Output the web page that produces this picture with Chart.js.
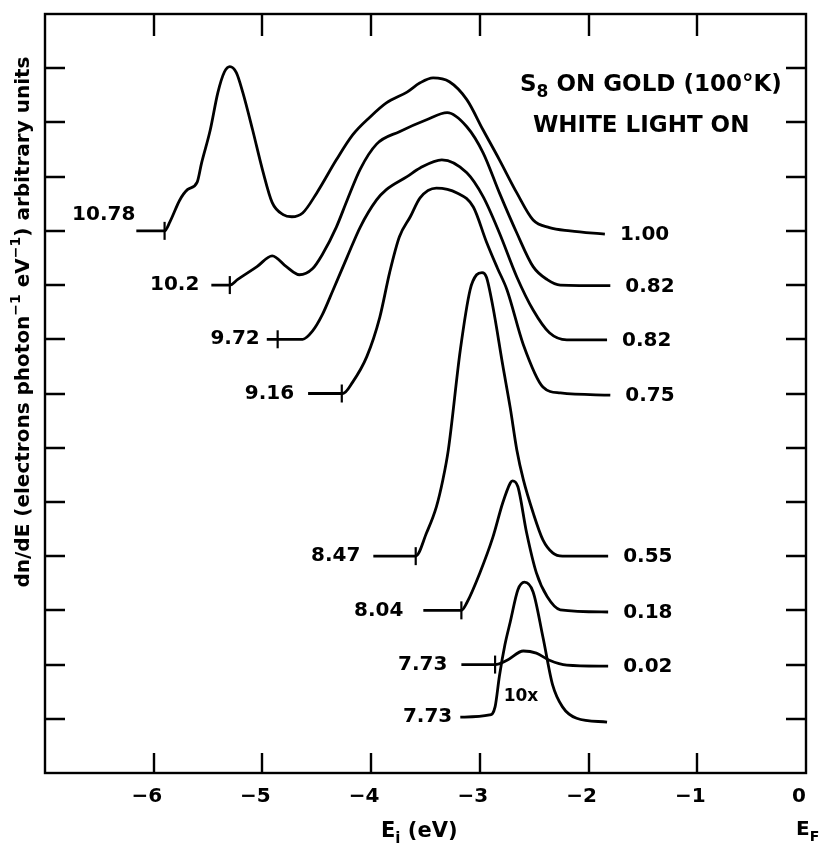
<!DOCTYPE html>
<html><head><meta charset="utf-8">
<script src="https://cdn.jsdelivr.net/npm/chart.js@4"></script>
<style>html,body{margin:0;padding:0;background:#fff;}</style>
</head><body>
<canvas id="c" width="822" height="848"></canvas>
<script>
// ---- data ----
const photonLabels = ['10.78', '10.2', '9.72', '9.16', '8.47', '8.04', '7.73', '7.73'];
const yieldLabels  = ['1.00', '0.82', '0.82', '0.75', '0.55', '0.18', '0.02', ''];

const e1078 = [-6.16,-5.90,-5.85,-5.76,-5.69,-5.60,-5.56,-5.48,-5.41,-5.35,-5.30,-5.24,-5.18,-5.09,-5.00,-4.91,-4.81,-4.73,-4.63,-4.50,-4.32,-4.17,-4.01,-3.86,-3.67,-3.55,-3.43,-3.28,-3.12,-2.97,-2.82,-2.66,-2.51,-2.36,-2.17,-1.85];
const y1078 = [10.0,10.0,10.17,10.57,10.76,10.90,11.25,11.86,12.55,12.93,13.03,12.92,12.55,11.86,11.13,10.52,10.30,10.26,10.33,10.70,11.31,11.77,12.10,12.36,12.56,12.73,12.82,12.75,12.42,11.86,11.31,10.70,10.20,10.06,10.00,9.94];

const e102 = [-5.47,-5.30,-5.23,-5.05,-4.91,-4.78,-4.66,-4.54,-4.45,-4.32,-4.22,-4.10,-3.95,-3.74,-3.49,-3.30,-3.12,-2.97,-2.82,-2.66,-2.51,-2.38,-2.26,-1.80];
const y102 = [9.0,9.0,9.10,9.34,9.54,9.34,9.19,9.30,9.56,10.07,10.57,11.14,11.60,11.83,12.05,12.18,11.92,11.44,10.70,9.96,9.34,9.10,9.00,8.99];

const e972 = [-4.96,-4.86,-4.63,-4.54,-4.45,-4.35,-4.22,-4.10,-3.95,-3.86,-3.67,-3.55,-3.35,-3.12,-2.97,-2.82,-2.66,-2.51,-2.36,-2.20,-1.83];
const y972 = [8.0,8.0,8.0,8.15,8.45,8.91,9.52,10.07,10.57,10.76,11.00,11.16,11.31,11.07,10.63,9.96,9.15,8.54,8.12,7.99,7.99];

const e916 = [-4.58,-4.26,-4.17,-4.04,-3.92,-3.83,-3.74,-3.64,-3.55,-3.40,-3.21,-3.06,-2.94,-2.84,-2.75,-2.60,-2.42,-2.26,-1.80];
const y916 = [7.0,7.0,7.21,7.68,8.41,9.23,9.89,10.26,10.61,10.79,10.70,10.44,9.80,9.32,8.91,7.90,7.12,7.01,6.97];

const e847 = [-3.98,-3.59,-3.49,-3.40,-3.34,-3.29,-3.18,-3.09,-3.03,-2.98,-2.94,-2.88,-2.79,-2.72,-2.66,-2.60,-2.51,-2.42,-2.33,-2.24,-1.82];
const y847 = [4.0,4.0,4.43,4.91,5.41,5.96,7.80,8.91,9.19,9.23,9.15,8.60,7.53,6.73,5.96,5.41,4.80,4.30,4.06,4.0,4.0];

const e804 = [-3.52,-3.17,-3.12,-3.00,-2.88,-2.79,-2.72,-2.70,-2.65,-2.57,-2.48,-2.38,-2.26,-1.82];
const y804 = [3.0,3.0,3.14,3.69,4.35,4.98,5.35,5.39,5.28,4.43,3.69,3.25,3.01,2.97];

const e773 = [-3.17,-2.86,-2.75,-2.60,-2.48,-2.36,-2.20,-1.82];
const y773 = [2.0,2.0,2.08,2.25,2.21,2.08,1.99,1.97];

const e773x10 = [-3.18,-2.91,-2.86,-2.82,-2.77,-2.72,-2.65,-2.59,-2.51,-2.42,-2.33,-2.24,-2.11,-1.83];
const y773x10 = [1.03,1.07,1.22,1.79,2.36,2.79,3.38,3.52,3.34,2.51,1.62,1.22,1.01,0.94];

const cutoffE = [-5.90, -5.30, -4.86, -4.27, -3.59, -3.17, -2.86];
const cutoffY = [10, 9, 8, 7, 4, 3, 2];

const xTickValues = [-6, -5, -4, -3, -2, -1, 0];
const xTickText   = ['\u22126', '\u22125', '\u22124', '\u22123', '\u22122', '\u22121', '0'];
const yTickValues = [1, 2, 3, 4, 5, 6, 7, 8, 9, 10, 11, 12, 13];

// ---- build ----
const curvesE = [e1078, e102, e972, e916, e847, e804, e773, e773x10];
const curvesY = [y1078, y102, y972, y916, y847, y804, y773, y773x10];
const FF = '"DejaVu Sans", sans-serif';
const leftGap = [1, 12, 7, 14, 13, 20, 14, 8];   // label spacing (style)

const datasets = curvesE.map((es, i) => ({
  data: es.map((e, j) => ({x: e, y: curvesY[i][j]})),
  showLine: true, borderColor: '#000', borderWidth: 2.8, pointRadius: 0,
  cubicInterpolationMode: 'monotone', fill: false
}));
datasets.push({
  data: cutoffE.map((e, j) => ({x: e, y: cutoffY[j]})),
  showLine: false, pointStyle: 'line', rotation: 90, pointRadius: 9,
  borderColor: '#000', pointBorderWidth: 2.2, borderWidth: 2.2
});

function drawRich(ctx, parts, x, y, size, align) {
  const fonts = parts.map(p => 'bold ' + (p.s ? Math.round(size * 0.72) : size) + 'px ' + FF);
  let total = 0;
  const widths = parts.map((p, i) => { ctx.font = fonts[i]; const w = ctx.measureText(p.t).width; total += w; return w; });
  let cx = align === 'center' ? x - total / 2 : (align === 'right' ? x - total : x);
  ctx.textAlign = 'left';
  ctx.textBaseline = 'middle';
  parts.forEach((p, i) => {
    ctx.font = fonts[i];
    const dy = p.s === 'sub' ? size * 0.35 : (p.s === 'sup' ? -size * 0.4 : 0);
    ctx.fillText(p.t, cx, y + dy);
    cx += widths[i];
  });
}

const deco = {
  id: 'deco',
  afterDatasetsDraw(chart) {
    const {ctx, chartArea: a, scales: {x, y}} = chart;
    ctx.save();
    ctx.strokeStyle = '#000'; ctx.fillStyle = '#000';
    ctx.lineWidth = 2.4;
    ctx.strokeRect(a.left, a.top, a.right - a.left, a.bottom - a.top);
    ctx.beginPath();
    xTickValues.forEach(v => {
      if (v <= x.min || v >= x.max) return;
      const px = Math.round(x.getPixelForValue(v));
      ctx.moveTo(px, a.bottom); ctx.lineTo(px, a.bottom - 20);
      ctx.moveTo(px, a.top); ctx.lineTo(px, a.top + 22);
    });
    yTickValues.forEach(v => {
      const py = Math.round(y.getPixelForValue(v));
      ctx.moveTo(a.left, py); ctx.lineTo(a.left + 20, py);
      ctx.moveTo(a.right, py); ctx.lineTo(a.right - 20, py);
    });
    ctx.stroke();

    // curve labels
    ctx.font = 'bold 20px ' + FF;
    ctx.textBaseline = 'middle';
    curvesE.forEach((es, i) => {
      const ys = curvesY[i];
      const lx = x.getPixelForValue(es[0]);
      const ly = y.getPixelForValue(ys[0]);
      ctx.textAlign = 'right';
      ctx.fillText(photonLabels[i], lx - leftGap[i], ly + (i === 0 ? -16 : 0));
      const rx = x.getPixelForValue(es[es.length - 1]);
      const ry = y.getPixelForValue(ys[ys.length - 1]);
      ctx.textAlign = 'left';
      if (yieldLabels[i]) ctx.fillText(yieldLabels[i], rx + 15, ry + 1);
    });
    ctx.font = 'bold 17px ' + FF;
    ctx.textAlign = 'center';
    ctx.fillText('10x', 521, 697);

    // title
    drawRich(ctx, [{t: 'S'}, {t: '8', s: 'sub'}, {t: ' ON GOLD (100\u00B0K)'}], 520, 85, 23, 'left');
    drawRich(ctx, [{t: 'WHITE LIGHT ON'}], 533, 126, 23, 'left');

    // axis titles
    drawRich(ctx, [{t: 'E'}, {t: 'i', s: 'sub'}, {t: ' (eV)'}], 381, 832, 21, 'left');
    drawRich(ctx, [{t: 'E'}, {t: 'F', s: 'sub'}], 796, 830, 20, 'left');
    ctx.save();
    ctx.translate(24, 322);
    ctx.rotate(-Math.PI / 2);
    drawRich(ctx, [{t: 'dn/dE (electrons photon'}, {t: '\u22121', s: 'sup'}, {t: ' eV'}, {t: '\u22121', s: 'sup'}, {t: ') arbitrary units'}], 0, 0, 20, 'center');
    ctx.restore();
    ctx.restore();
  }
};

new Chart(document.getElementById('c'), {
  type: 'scatter',
  data: {datasets},
  options: {
    responsive: false, animation: false, devicePixelRatio: 1,
    layout: {padding: {top: 14, right: 16, left: 0, bottom: 0}},
    plugins: {legend: {display: false}, tooltip: {enabled: false}},
    scales: {
      x: {
        type: 'linear', min: -7, max: 0, position: 'bottom',
        afterFit: s => { s.height = 75; s.paddingLeft = 0; s.paddingRight = 0; },
        afterBuildTicks: s => { s.ticks = xTickValues.map(v => ({value: v})); },
        grid: {display: false, drawTicks: false}, border: {display: false},
        ticks: {
          callback: v => { const k = xTickValues.indexOf(v); return k >= 0 ? xTickText[k] : ''; },
          font: {family: FF, size: 20, weight: 'bold'}, color: '#000',
          padding: 12, labelOffset: -7, autoSkip: false, maxRotation: 0
        }
      },
      y: {
        type: 'linear', min: 0, max: 14,
        afterFit: s => { s.width = 45; s.paddingTop = 0; s.paddingBottom = 0; },
        grid: {display: false}, border: {display: false},
        ticks: {display: false, stepSize: 1}
      }
    }
  },
  plugins: [deco]
});
</script>
</body></html>
